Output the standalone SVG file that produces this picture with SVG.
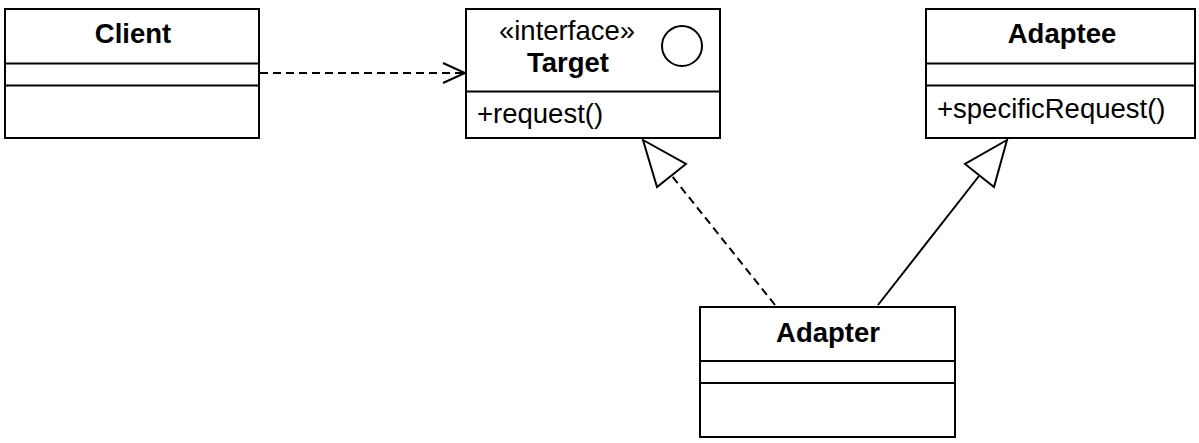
<svg xmlns="http://www.w3.org/2000/svg" width="1199" height="443" viewBox="0 0 1199 443">
  <style>
    .box { fill: #ffffff; stroke: #000000; stroke-width: 2; }
    .sep { stroke: #000000; stroke-width: 2; }
    .name { font-family: "Liberation Sans", Arial, sans-serif; font-weight: bold; font-size: 27.5px; text-anchor: middle; fill: #000; }
    .stereo { font-family: "Liberation Sans", Arial, sans-serif; font-size: 27.5px; text-anchor: middle; fill: #000; }
    .member { font-family: "Liberation Sans", Arial, sans-serif; font-size: 27.5px; fill: #000; }
    .edge { fill: none; stroke: #000000; stroke-width: 2; }
    .dashed { stroke-dasharray: 8 5; }
    .head { fill: #ffffff; stroke: #000000; stroke-width: 2; stroke-linejoin: miter; }
  </style>

  <g id="connectors">
    <!-- Client depends on Target -->
    <line class="edge dashed" x1="260" y1="73" x2="464" y2="73"/>
    <polyline class="edge" points="443,63 465,73 443,83"/>
    <!-- Adapter realizes Target -->
    <line class="edge dashed" x1="775" y1="305" x2="672" y2="176"/>
    <polygon class="head" points="643,140 686,164 657,187"/>
    <!-- Adapter extends Adaptee -->
    <line class="edge" x1="878" y1="305" x2="979" y2="176"/>
    <polygon class="head" points="1007,140 965,164 994,187"/>
  </g>

  <g id="client">
    <rect class="box" x="5" y="9" width="254" height="129"/>
    <line class="sep" x1="5" y1="63.5" x2="259" y2="63.5"/>
    <line class="sep" x1="5" y1="85.5" x2="259" y2="85.5"/>
    <text class="name" x="133" y="43">Client</text>
  </g>

  <g id="target">
    <rect class="box" x="466" y="9" width="254" height="129"/>
    <line class="sep" x1="466" y1="91.5" x2="720" y2="91.5"/>
    <text class="stereo" x="567" y="40">«interface»</text>
    <text class="name" x="568" y="72">Target</text>
    <circle cx="682" cy="46" r="20" fill="#ffffff" stroke="#000" stroke-width="2"/>
    <text class="member" x="477" y="123">+request()</text>
  </g>

  <g id="adaptee">
    <rect class="box" x="926" y="9" width="269" height="129"/>
    <line class="sep" x1="926" y1="63.5" x2="1195" y2="63.5"/>
    <line class="sep" x1="926" y1="85.5" x2="1195" y2="85.5"/>
    <text class="name" x="1062" y="43">Adaptee</text>
    <text class="member" x="937" y="118">+specificRequest()</text>
  </g>

  <g id="adapter">
    <rect class="box" x="700" y="307" width="255" height="130"/>
    <line class="sep" x1="700" y1="361" x2="955" y2="361"/>
    <line class="sep" x1="700" y1="383" x2="955" y2="383"/>
    <text class="name" x="828" y="342">Adapter</text>
  </g>
</svg>
